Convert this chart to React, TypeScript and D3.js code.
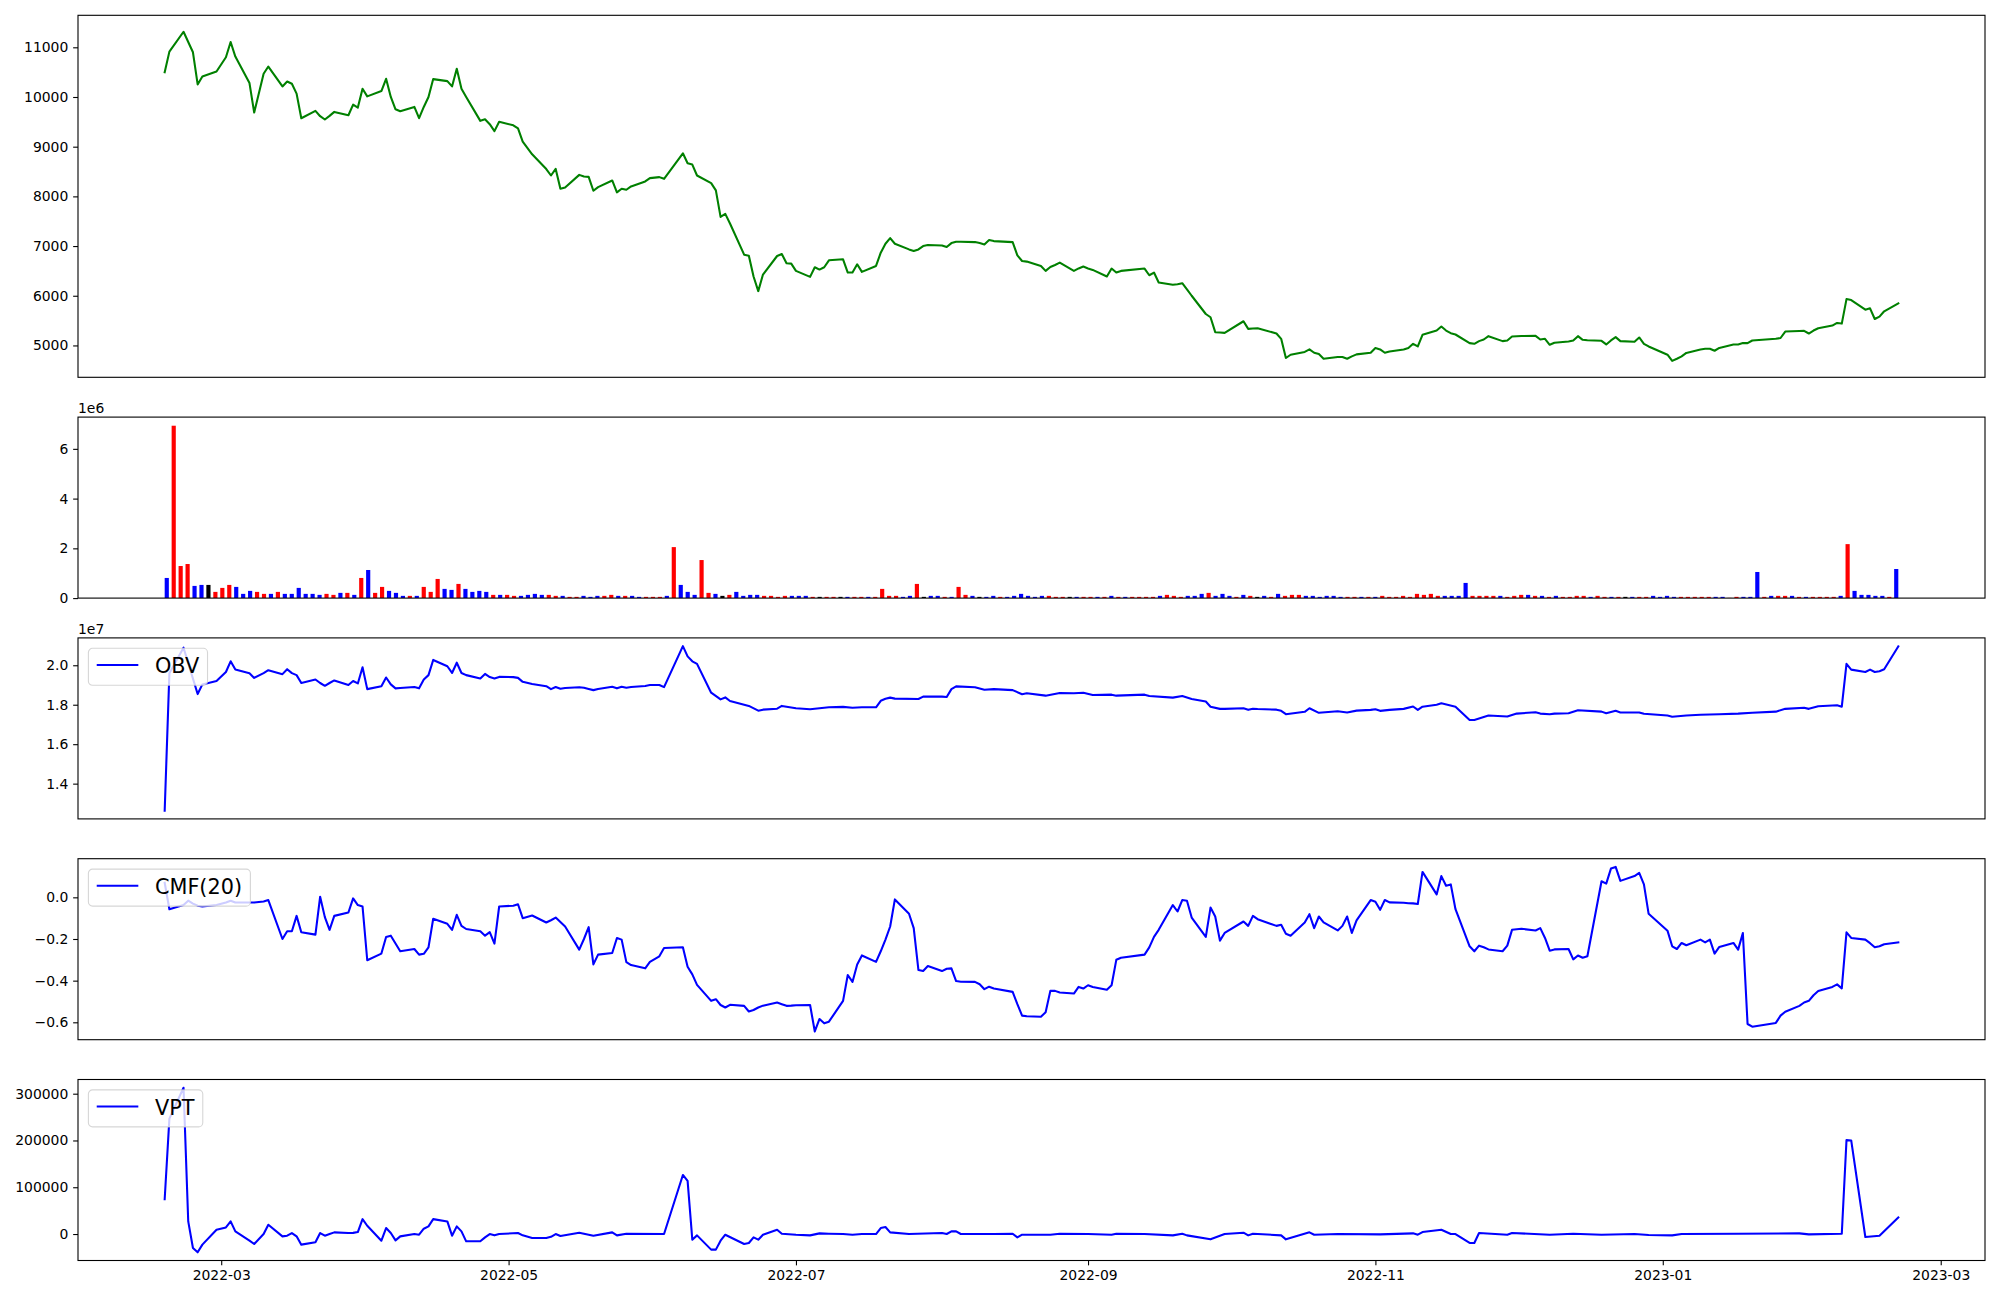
import React, { useEffect, useRef } from "react";
import * as d3 from "d3";

// ---- data ----

// close price
const priceSeries: [string, number][] = [
  ["2022-02-17",10500],["2022-02-18",10913],["2022-02-21",11313],["2022-02-23",10900],["2022-02-24",10253],["2022-02-25",10413],["2022-02-28",10513],
  ["2022-03-02",10800],["2022-03-03",11107],["2022-03-04",10813],["2022-03-07",10280],["2022-03-08",9687],["2022-03-10",10467],["2022-03-11",10613],
  ["2022-03-14",10213],["2022-03-15",10313],["2022-03-16",10267],["2022-03-17",10067],["2022-03-18",9573],["2022-03-21",9720],["2022-03-22",9613],
  ["2022-03-23",9547],["2022-03-24",9620],["2022-03-25",9700],["2022-03-28",9633],["2022-03-29",9847],["2022-03-30",9787],["2022-03-31",10167],
  ["2022-04-01",10013],["2022-04-04",10120],["2022-04-05",10367],["2022-04-06",10000],["2022-04-07",9753],["2022-04-08",9713],["2022-04-11",9800],
  ["2022-04-12",9573],["2022-04-13",9800],["2022-04-14",10000],["2022-04-15",10360],["2022-04-18",10320],["2022-04-19",10213],["2022-04-20",10567],
  ["2022-04-21",10167],["2022-04-22",10000],["2022-04-25",9520],["2022-04-26",9553],["2022-04-27",9453],["2022-04-28",9313],["2022-04-29",9500],
  ["2022-05-02",9430],["2022-05-03",9367],["2022-05-04",9100],["2022-05-06",8847],["2022-05-09",8550],["2022-05-10",8420],["2022-05-11",8553],
  ["2022-05-12",8153],["2022-05-13",8180],["2022-05-16",8433],["2022-05-17",8400],["2022-05-18",8393],["2022-05-19",8113],["2022-05-20",8187],
  ["2022-05-23",8320],["2022-05-24",8080],["2022-05-25",8153],["2022-05-26",8133],["2022-05-27",8200],["2022-05-30",8300],["2022-05-31",8367],
  ["2022-06-02",8387],["2022-06-03",8353],["2022-06-07",8867],["2022-06-08",8667],["2022-06-09",8640],["2022-06-10",8420],["2022-06-13",8267],
  ["2022-06-14",8120],["2022-06-15",7587],["2022-06-16",7647],["2022-06-17",7453],["2022-06-20",6827],["2022-06-21",6807],["2022-06-22",6387],
  ["2022-06-23",6093],["2022-06-24",6427],["2022-06-27",6800],["2022-06-28",6840],["2022-06-29",6653],["2022-06-30",6647],["2022-07-01",6500],
  ["2022-07-04",6380],["2022-07-05",6573],["2022-07-06",6527],["2022-07-07",6573],["2022-07-08",6713],["2022-07-11",6733],["2022-07-12",6467],
  ["2022-07-13",6467],["2022-07-14",6633],["2022-07-15",6480],["2022-07-18",6600],["2022-07-19",6867],["2022-07-20",7047],["2022-07-21",7160],
  ["2022-07-22",7047],["2022-07-25",6933],["2022-07-26",6900],["2022-07-27",6933],["2022-07-28",7000],["2022-07-29",7020],["2022-08-01",7013],
  ["2022-08-02",6980],["2022-08-03",7060],["2022-08-04",7087],["2022-08-05",7087],["2022-08-08",7080],["2022-08-09",7060],["2022-08-10",7033],
  ["2022-08-11",7120],["2022-08-12",7100],["2022-08-16",7080],["2022-08-17",6813],["2022-08-18",6700],["2022-08-19",6687],["2022-08-22",6600],
  ["2022-08-23",6500],["2022-08-24",6580],["2022-08-25",6620],["2022-08-26",6667],["2022-08-29",6500],["2022-08-30",6550],["2022-08-31",6587],
  ["2022-09-01",6550],["2022-09-02",6520],["2022-09-05",6387],["2022-09-06",6547],["2022-09-07",6467],["2022-09-08",6500],["2022-09-13",6547],
  ["2022-09-14",6413],["2022-09-15",6467],["2022-09-16",6267],["2022-09-19",6220],["2022-09-20",6230],["2022-09-21",6253],["2022-09-22",6130],
  ["2022-09-23",6000],["2022-09-26",5633],["2022-09-27",5567],["2022-09-28",5267],["2022-09-29",5260],["2022-09-30",5253],["2022-10-04",5487],
  ["2022-10-05",5333],["2022-10-06",5340],["2022-10-07",5347],["2022-10-11",5240],["2022-10-12",5133],["2022-10-13",4747],["2022-10-14",4813],
  ["2022-10-17",4870],["2022-10-18",4920],["2022-10-19",4853],["2022-10-20",4827],["2022-10-21",4733],["2022-10-24",4767],["2022-10-25",4767],
  ["2022-10-26",4733],["2022-10-27",4780],["2022-10-28",4820],["2022-10-31",4853],["2022-11-01",4947],["2022-11-02",4920],["2022-11-03",4853],
  ["2022-11-04",4880],["2022-11-07",4920],["2022-11-08",4950],["2022-11-09",5033],["2022-11-10",4980],["2022-11-11",5213],["2022-11-14",5300],
  ["2022-11-15",5380],["2022-11-16",5300],["2022-11-17",5247],["2022-11-18",5220],["2022-11-21",5047],["2022-11-22",5033],["2022-11-23",5087],
  ["2022-11-24",5120],["2022-11-25",5187],["2022-11-28",5087],["2022-11-29",5100],["2022-11-30",5180],["2022-12-01",5185],["2022-12-02",5190],
  ["2022-12-05",5193],["2022-12-06",5120],["2022-12-07",5133],["2022-12-08",5013],["2022-12-09",5053],["2022-12-12",5080],["2022-12-13",5100],
  ["2022-12-14",5187],["2022-12-15",5113],["2022-12-16",5105],["2022-12-19",5093],["2022-12-20",5020],["2022-12-21",5100],["2022-12-22",5167],
  ["2022-12-23",5087],["2022-12-26",5073],["2022-12-27",5160],["2022-12-28",5033],["2022-12-29",4980],["2023-01-02",4813],["2023-01-03",4690],
  ["2023-01-04",4733],["2023-01-05",4780],["2023-01-06",4850],["2023-01-09",4920],["2023-01-10",4933],["2023-01-11",4933],["2023-01-12",4893],
  ["2023-01-13",4950],["2023-01-16",5020],["2023-01-17",5020],["2023-01-18",5047],["2023-01-19",5047],["2023-01-20",5100],["2023-01-25",5133],
  ["2023-01-26",5150],["2023-01-27",5280],["2023-01-30",5290],["2023-01-31",5293],["2023-02-01",5240],["2023-02-02",5300],["2023-02-03",5347],
  ["2023-02-06",5400],["2023-02-07",5453],["2023-02-08",5440],["2023-02-09",5933],["2023-02-10",5913],["2023-02-13",5720],["2023-02-14",5747],
  ["2023-02-15",5533],["2023-02-16",5580],["2023-02-17",5687],["2023-02-20",5847],
];

// daily volume (x 1e6), one bar per trading session
const volumeValues: number[] = [
  0.81,6.93,1.29,1.37,0.49,0.53,0.53,0.25,0.41,0.53,
  0.45,0.17,0.29,0.25,0.17,0.17,0.25,0.17,0.17,0.41,
  0.17,0.17,0.13,0.17,0.13,0.21,0.21,0.13,0.81,1.13,
  0.21,0.45,0.29,0.21,0.09,0.09,0.09,0.45,0.25,0.77,
  0.37,0.33,0.57,0.37,0.25,0.29,0.25,0.13,0.13,0.13,
  0.09,0.09,0.13,0.17,0.13,0.13,0.09,0.09,0.05,0.05,
  0.09,0.05,0.09,0.09,0.13,0.09,0.09,0.09,0.05,0.05,
  0.05,0.05,0.09,2.05,0.53,0.25,0.13,1.53,0.21,0.17,
  0.09,0.13,0.25,0.09,0.13,0.13,0.09,0.09,0.05,0.09,
  0.09,0.09,0.09,0.05,0.05,0.05,0.05,0.05,0.05,0.05,
  0.05,0.05,0.05,0.37,0.09,0.09,0.05,0.09,0.57,0.05,
  0.09,0.09,0.05,0.05,0.45,0.13,0.09,0.05,0.05,0.09,
  0.05,0.05,0.09,0.17,0.09,0.05,0.09,0.09,0.05,0.05,
  0.05,0.05,0.05,0.05,0.05,0.05,0.09,0.05,0.05,0.05,
  0.05,0.05,0.05,0.09,0.13,0.09,0.05,0.09,0.09,0.17,
  0.21,0.09,0.17,0.09,0.05,0.13,0.09,0.05,0.09,0.05,
  0.17,0.09,0.13,0.13,0.09,0.09,0.05,0.09,0.09,0.05,
  0.05,0.05,0.05,0.05,0.05,0.09,0.05,0.05,0.09,0.05,
  0.17,0.13,0.17,0.09,0.09,0.09,0.09,0.61,0.09,0.09,
  0.09,0.09,0.09,0.05,0.09,0.13,0.13,0.09,0.09,0.05,
  0.09,0.05,0.05,0.09,0.09,0.05,0.09,0.05,0.05,0.05,
  0.05,0.05,0.05,0.05,0.09,0.05,0.09,0.05,0.05,0.05,
  0.05,0.05,0.05,0.05,0.05,0.01,0.05,0.05,0.05,1.05,
  0.05,0.09,0.09,0.09,0.09,0.05,0.05,0.05,0.05,0.05,
  0.05,0.09,2.17,0.29,0.13,0.13,0.09,0.09,0.05,1.17,
];
// bar colour per session: r = red, b = blue, k = black
const volumeColorCodes = (
  "brrrbbkrrr" + "bbbrrbrbbb" + "bbbrrbrbrb" + "rrbbbrbrrr" + "bbrbbbbrbr" +
  "rbbbbrrbrr" + "bbbrrbrbbr" + "rrbrbbbrrb" + "krbbbbrrrr" + "bbbrkrrkbr" +
  "rbrrrrbbrk" + "bbrbrrbkbb" + "rbbbbbbrrr" + "kbrrbrbrbr" + "rrrbrrrbbb" +
  "rbbbrbrkbr" + "brrrbbbbbb" + "rrbrbrrrrr" + "rrrrbbbbrr" + "rrbrrrbrbr" +
  "brrrrbrrbr" + "kbrrbbbbrr" + "rrrbbrrbbb" + "rbrrbrbrrr" + "rbrbbbbbrb"
).split("");

// on-balance volume (x 1e7)
const obvSeries: [string, number][] = [
  ["2022-02-17",1.263],["2022-02-18",1.96],["2022-02-21",2.089],["2022-02-24",1.854],["2022-02-25",1.903],["2022-02-28",1.92],["2022-03-02",1.966],
  ["2022-03-03",2.02],["2022-03-04",1.978],["2022-03-07",1.96],["2022-03-08",1.936],["2022-03-10",1.96],["2022-03-11",1.975],["2022-03-14",1.955],
  ["2022-03-15",1.98],["2022-03-16",1.96],["2022-03-17",1.95],["2022-03-18",1.91],["2022-03-21",1.928],["2022-03-22",1.91],["2022-03-23",1.896],
  ["2022-03-24",1.91],["2022-03-25",1.923],["2022-03-28",1.9],["2022-03-29",1.92],["2022-03-30",1.908],["2022-03-31",1.99],["2022-04-01",1.879],
  ["2022-04-04",1.894],["2022-04-05",1.938],["2022-04-06",1.903],["2022-04-07",1.883],["2022-04-08",1.885],["2022-04-11",1.89],["2022-04-12",1.883],
  ["2022-04-13",1.928],["2022-04-14",1.95],["2022-04-15",2.027],["2022-04-18",1.995],["2022-04-19",1.961],["2022-04-20",2.013],["2022-04-21",1.961],
  ["2022-04-22",1.95],["2022-04-25",1.933],["2022-04-26",1.956],["2022-04-27",1.94],["2022-04-28",1.933],["2022-04-29",1.941],["2022-05-02",1.94],
  ["2022-05-03",1.936],["2022-05-04",1.916],["2022-05-06",1.905],["2022-05-09",1.894],["2022-05-10",1.879],["2022-05-11",1.89],["2022-05-12",1.881],
  ["2022-05-13",1.885],["2022-05-16",1.889],["2022-05-17",1.886],["2022-05-18",1.88],["2022-05-19",1.874],["2022-05-20",1.88],["2022-05-23",1.891],
  ["2022-05-24",1.883],["2022-05-25",1.891],["2022-05-26",1.886],["2022-05-27",1.89],["2022-05-30",1.895],["2022-05-31",1.9],["2022-06-02",1.9],
  ["2022-06-03",1.889],["2022-06-07",2.097],["2022-06-08",2.045],["2022-06-09",2.02],["2022-06-10",2.007],["2022-06-13",1.861],["2022-06-15",1.827],
  ["2022-06-16",1.837],["2022-06-17",1.819],["2022-06-21",1.794],["2022-06-23",1.77],["2022-06-24",1.775],["2022-06-27",1.78],["2022-06-28",1.794],
  ["2022-07-01",1.782],["2022-07-04",1.777],["2022-07-06",1.782],["2022-07-08",1.787],["2022-07-11",1.789],["2022-07-13",1.785],["2022-07-15",1.787],
  ["2022-07-18",1.787],["2022-07-19",1.82],["2022-07-20",1.83],["2022-07-21",1.836],["2022-07-22",1.831],["2022-07-27",1.829],["2022-07-28",1.841],
  ["2022-08-01",1.841],["2022-08-02",1.839],["2022-08-03",1.879],["2022-08-04",1.893],["2022-08-08",1.889],["2022-08-10",1.876],["2022-08-12",1.879],
  ["2022-08-16",1.874],["2022-08-18",1.853],["2022-08-19",1.858],["2022-08-23",1.846],["2022-08-26",1.859],["2022-08-29",1.858],["2022-08-31",1.861],
  ["2022-09-02",1.849],["2022-09-06",1.851],["2022-09-07",1.846],["2022-09-13",1.851],["2022-09-14",1.844],["2022-09-19",1.836],["2022-09-21",1.844],
  ["2022-09-23",1.829],["2022-09-26",1.816],["2022-09-27",1.79],["2022-09-29",1.779],["2022-09-30",1.779],["2022-10-04",1.782],["2022-10-05",1.774],
  ["2022-10-06",1.78],["2022-10-07",1.778],["2022-10-11",1.775],["2022-10-12",1.769],["2022-10-13",1.752],["2022-10-17",1.764],["2022-10-18",1.782],
  ["2022-10-20",1.759],["2022-10-24",1.767],["2022-10-26",1.761],["2022-10-28",1.77],["2022-10-31",1.774],["2022-11-01",1.777],["2022-11-02",1.769],
  ["2022-11-04",1.774],["2022-11-07",1.779],["2022-11-09",1.791],["2022-11-10",1.774],["2022-11-11",1.79],["2022-11-14",1.8],["2022-11-15",1.807],
  ["2022-11-18",1.79],["2022-11-21",1.723],["2022-11-22",1.723],["2022-11-25",1.745],["2022-11-29",1.74],["2022-12-01",1.755],["2022-12-05",1.762],
  ["2022-12-06",1.755],["2022-12-08",1.752],["2022-12-09",1.755],["2022-12-12",1.757],["2022-12-14",1.772],["2022-12-19",1.765],["2022-12-20",1.757],
  ["2022-12-22",1.769],["2022-12-23",1.761],["2022-12-27",1.761],["2022-12-28",1.754],["2023-01-02",1.745],["2023-01-03",1.739],["2023-01-06",1.745],
  ["2023-01-09",1.749],["2023-01-13",1.752],["2023-01-17",1.755],["2023-01-20",1.759],["2023-01-25",1.765],["2023-01-27",1.779],["2023-01-31",1.785],
  ["2023-02-01",1.779],["2023-02-03",1.792],["2023-02-07",1.797],["2023-02-08",1.79],["2023-02-09",2.007],["2023-02-10",1.978],["2023-02-13",1.966],
  ["2023-02-14",1.978],["2023-02-15",1.966],["2023-02-16",1.97],["2023-02-17",1.98],["2023-02-20",2.096],
];

// Chaikin money flow, 20 sessions
const cmfSeries: [string, number][] = [
  ["2022-02-17",0.07],["2022-02-18",-0.057],["2022-02-21",-0.037],["2022-02-22",-0.016],["2022-02-23",-0.03],["2022-02-24",-0.04],["2022-02-25",-0.044],
  ["2022-02-28",-0.037],["2022-03-02",-0.025],["2022-03-03",-0.016],["2022-03-04",-0.025],["2022-03-07",-0.025],["2022-03-08",-0.025],["2022-03-10",-0.02],
  ["2022-03-11",-0.013],["2022-03-14",-0.2],["2022-03-15",-0.163],["2022-03-16",-0.163],["2022-03-17",-0.089],["2022-03-18",-0.168],["2022-03-21",-0.179],
  ["2022-03-22",0.003],["2022-03-23",-0.095],["2022-03-24",-0.156],["2022-03-25",-0.089],["2022-03-28",-0.073],["2022-03-29",-0.005],["2022-03-30",-0.037],
  ["2022-03-31",-0.044],["2022-04-01",-0.302],["2022-04-04",-0.27],["2022-04-05",-0.19],["2022-04-06",-0.184],["2022-04-07",-0.222],["2022-04-08",-0.259],
  ["2022-04-11",-0.248],["2022-04-12",-0.275],["2022-04-13",-0.271],["2022-04-14",-0.24],["2022-04-15",-0.103],["2022-04-18",-0.127],["2022-04-19",-0.156],
  ["2022-04-20",-0.084],["2022-04-21",-0.137],["2022-04-22",-0.152],["2022-04-25",-0.163],["2022-04-26",-0.184],["2022-04-27",-0.167],["2022-04-28",-0.222],
  ["2022-04-29",-0.044],["2022-05-02",-0.04],["2022-05-03",-0.033],["2022-05-04",-0.1],["2022-05-06",-0.087],["2022-05-09",-0.121],["2022-05-10",-0.11],
  ["2022-05-11",-0.097],["2022-05-13",-0.14],["2022-05-16",-0.251],["2022-05-17",-0.2],["2022-05-18",-0.143],["2022-05-19",-0.322],["2022-05-20",-0.275],
  ["2022-05-23",-0.267],["2022-05-24",-0.195],["2022-05-25",-0.203],["2022-05-26",-0.311],["2022-05-27",-0.325],["2022-05-30",-0.341],["2022-05-31",-0.31],
  ["2022-06-02",-0.283],["2022-06-03",-0.243],["2022-06-07",-0.24],["2022-06-08",-0.333],["2022-06-09",-0.37],["2022-06-10",-0.42],["2022-06-13",-0.497],
  ["2022-06-14",-0.489],["2022-06-15",-0.517],["2022-06-16",-0.529],["2022-06-17",-0.516],["2022-06-20",-0.521],["2022-06-21",-0.548],["2022-06-22",-0.541],
  ["2022-06-23",-0.529],["2022-06-24",-0.52],["2022-06-27",-0.505],["2022-06-28",-0.513],["2022-06-29",-0.521],["2022-06-30",-0.52],["2022-07-01",-0.518],
  ["2022-07-04",-0.517],["2022-07-05",-0.644],["2022-07-06",-0.584],["2022-07-07",-0.605],["2022-07-08",-0.597],["2022-07-11",-0.497],["2022-07-12",-0.373],
  ["2022-07-13",-0.406],["2022-07-14",-0.322],["2022-07-15",-0.279],["2022-07-18",-0.31],["2022-07-19",-0.259],["2022-07-20",-0.203],["2022-07-21",-0.14],
  ["2022-07-22",-0.01],["2022-07-25",-0.079],["2022-07-26",-0.148],["2022-07-27",-0.349],["2022-07-28",-0.354],["2022-07-29",-0.33],["2022-08-01",-0.354],
  ["2022-08-02",-0.343],["2022-08-03",-0.341],["2022-08-04",-0.402],["2022-08-05",-0.405],["2022-08-08",-0.406],["2022-08-09",-0.417],["2022-08-10",-0.441],
  ["2022-08-11",-0.429],["2022-08-12",-0.438],["2022-08-16",-0.454],["2022-08-17",-0.513],["2022-08-18",-0.568],["2022-08-19",-0.571],["2022-08-22",-0.573],
  ["2022-08-23",-0.552],["2022-08-24",-0.449],["2022-08-25",-0.449],["2022-08-26",-0.457],["2022-08-29",-0.462],["2022-08-30",-0.43],["2022-08-31",-0.438],
  ["2022-09-01",-0.422],["2022-09-02",-0.43],["2022-09-05",-0.444],["2022-09-06",-0.422],["2022-09-07",-0.3],["2022-09-08",-0.29],["2022-09-13",-0.275],
  ["2022-09-14",-0.24],["2022-09-15",-0.19],["2022-09-16",-0.156],["2022-09-19",-0.037],["2022-09-20",-0.068],["2022-09-21",-0.013],["2022-09-22",-0.016],
  ["2022-09-23",-0.097],["2022-09-26",-0.19],["2022-09-27",-0.049],["2022-09-28",-0.092],["2022-09-29",-0.208],["2022-09-30",-0.171],["2022-10-04",-0.116],
  ["2022-10-05",-0.137],["2022-10-06",-0.089],["2022-10-07",-0.105],["2022-10-11",-0.137],["2022-10-12",-0.132],["2022-10-13",-0.175],["2022-10-14",-0.184],
  ["2022-10-17",-0.121],["2022-10-18",-0.081],["2022-10-19",-0.148],["2022-10-20",-0.092],["2022-10-21",-0.12],["2022-10-24",-0.159],["2022-10-25",-0.137],
  ["2022-10-26",-0.092],["2022-10-27",-0.171],["2022-10-28",-0.111],["2022-10-31",-0.013],["2022-11-01",-0.021],["2022-11-02",-0.06],["2022-11-03",-0.013],
  ["2022-11-04",-0.024],["2022-11-07",-0.026],["2022-11-08",-0.028],["2022-11-09",-0.029],["2022-11-10",-0.032],["2022-11-11",0.122],["2022-11-14",0.014],
  ["2022-11-15",0.102],["2022-11-16",0.056],["2022-11-17",0.062],["2022-11-18",-0.057],["2022-11-21",-0.235],["2022-11-22",-0.259],["2022-11-23",-0.232],
  ["2022-11-24",-0.24],["2022-11-25",-0.25],["2022-11-28",-0.259],["2022-11-29",-0.232],["2022-11-30",-0.156],["2022-12-01",-0.153],["2022-12-02",-0.151],
  ["2022-12-05",-0.159],["2022-12-06",-0.148],["2022-12-07",-0.195],["2022-12-08",-0.256],["2022-12-09",-0.25],["2022-12-12",-0.248],["2022-12-13",-0.298],
  ["2022-12-14",-0.279],["2022-12-15",-0.29],["2022-12-16",-0.283],["2022-12-19",0.077],["2022-12-20",0.066],["2022-12-21",0.138],["2022-12-22",0.146],
  ["2022-12-23",0.079],["2022-12-26",0.102],["2022-12-27",0.117],["2022-12-28",0.062],["2022-12-29",-0.079],["2023-01-02",-0.16],["2023-01-03",-0.235],
  ["2023-01-04",-0.248],["2023-01-05",-0.219],["2023-01-06",-0.23],["2023-01-09",-0.203],["2023-01-10",-0.216],["2023-01-11",-0.203],["2023-01-12",-0.27],
  ["2023-01-13",-0.238],["2023-01-16",-0.219],["2023-01-17",-0.251],["2023-01-18",-0.171],["2023-01-19",-0.608],["2023-01-20",-0.621],["2023-01-25",-0.603],
  ["2023-01-26",-0.568],["2023-01-27",-0.549],["2023-01-30",-0.521],["2023-01-31",-0.505],["2023-02-01",-0.497],["2023-02-02",-0.47],["2023-02-03",-0.45],
  ["2023-02-06",-0.43],["2023-02-07",-0.418],["2023-02-08",-0.437],["2023-02-09",-0.168],["2023-02-10",-0.195],["2023-02-13",-0.203],["2023-02-14",-0.22],
  ["2023-02-15",-0.24],["2023-02-16",-0.235],["2023-02-17",-0.225],["2023-02-20",-0.216],
];

// volume price trend
const vptSeries: [string, number][] = [
  ["2022-02-17",74470],["2022-02-18",246800],["2022-02-21",312760],["2022-02-22",26950],["2022-02-23",-29790],["2022-02-24",-39000],["2022-02-25",-22700],
  ["2022-02-28",9220],["2022-03-02",14180],["2022-03-03",26950],["2022-03-04",5670],["2022-03-07",-14000],["2022-03-08",-21280],["2022-03-10",0],
  ["2022-03-11",19860],["2022-03-14",-4960],["2022-03-15",-3550],["2022-03-16",2130],["2022-03-17",-4960],["2022-03-18",-22700],["2022-03-21",-17730],
  ["2022-03-22",2130],["2022-03-23",-3550],["2022-03-24",0],["2022-03-25",3550],["2022-03-28",2130],["2022-03-29",2500],["2022-03-30",4260],
  ["2022-03-31",31900],["2022-04-01",17730],["2022-04-04",-14180],["2022-04-05",12770],["2022-04-06",2130],["2022-04-07",-13480],["2022-04-08",-4960],
  ["2022-04-11",0],["2022-04-12",-1420],["2022-04-13",11350],["2022-04-14",16310],["2022-04-15",31900],["2022-04-18",26950],["2022-04-19",-3550],
  ["2022-04-20",16310],["2022-04-21",5670],["2022-04-22",-15600],["2022-04-25",-15600],["2022-04-26",-7090],["2022-04-27",0],["2022-04-28",-2840],
  ["2022-04-29",0],["2022-05-03",2130],["2022-05-04",-2840],["2022-05-06",-8510],["2022-05-09",-8510],["2022-05-10",-6000],["2022-05-11",0],
  ["2022-05-12",-4260],["2022-05-16",2840],["2022-05-19",-3550],["2022-05-23",3550],["2022-05-24",-2840],["2022-05-26",700],["2022-06-03",0],
  ["2022-06-07",126240],["2022-06-08",113470],["2022-06-09",-12060],["2022-06-10",-2840],["2022-06-13",-33330],["2022-06-14",-33330],["2022-06-15",-14180],
  ["2022-06-16",-1420],["2022-06-20",-21280],["2022-06-21",-19150],["2022-06-22",-7090],["2022-06-23",-12060],["2022-06-24",-1420],["2022-06-27",9220],
  ["2022-06-28",700],["2022-07-01",-1420],["2022-07-04",-2840],["2022-07-06",1420],["2022-07-08",700],["2022-07-11",0],["2022-07-13",-1420],
  ["2022-07-15",0],["2022-07-18",0],["2022-07-19",12770],["2022-07-20",14890],["2022-07-21",3550],["2022-07-25",0],["2022-08-01",2130],
  ["2022-08-02",0],["2022-08-03",5670],["2022-08-04",5670],["2022-08-05",0],["2022-08-12",0],["2022-08-16",700],["2022-08-17",-7090],
  ["2022-08-18",-1420],["2022-08-24",-1420],["2022-08-26",700],["2022-09-01",0],["2022-09-06",-1420],["2022-09-07",700],["2022-09-13",0],
  ["2022-09-19",-2840],["2022-09-21",700],["2022-09-22",-2840],["2022-09-27",-11350],["2022-09-30",0],["2022-10-04",2840],["2022-10-05",-2840],
  ["2022-10-06",700],["2022-10-12",-2840],["2022-10-13",-11350],["2022-10-18",3550],["2022-10-19",-1420],["2022-10-24",0],["2022-11-02",-700],
  ["2022-11-09",1420],["2022-11-10",-1420],["2022-11-11",4260],["2022-11-15",9220],["2022-11-17",0],["2022-11-18",0],["2022-11-21",-19150],
  ["2022-11-22",-19150],["2022-11-23",2130],["2022-11-29",-1420],["2022-11-30",2130],["2022-12-08",-1420],["2022-12-13",700],["2022-12-19",-1420],
  ["2022-12-26",0],["2022-12-29",-2130],["2023-01-03",-2840],["2023-01-05",0],["2023-01-17",700],["2023-01-30",1420],["2023-02-01",-700],
  ["2023-02-08",700],["2023-02-09",200700],["2023-02-10",200000],["2023-02-13",-6380],["2023-02-16",-3550],["2023-02-20",35460],
];

const priceTicks = [5000, 6000, 7000, 8000, 9000, 10000, 11000];
const volumeTicks = [0, 2, 4, 6];
const obvTicks = [1.4, 1.6, 1.8, 2.0];
const cmfTicks = [-0.6, -0.4, -0.2, 0.0];
const vptTicks = [0, 100000, 200000, 300000];

// ---- layout ----
const FONT = "'DejaVu Sans', sans-serif";
const TICK_FONT = 13.9;
const LEGEND_FONT = 20.8;
const TICK_LEN = 4.86;
const BAR_WIDTH = 0.6; // in session slots
const plotLeft = 78;
const plotRight = 1985;
const boxes = [
  { top: 15.3, bottom: 377.3 },
  { top: 417.1, bottom: 598.1 },
  { top: 637.9, bottom: 818.9 },
  { top: 858.7, bottom: 1039.7 },
  { top: 1079.5, bottom: 1260.5 },
];
const colorOf: Record<string, string> = { r: "#ff0000", b: "#0000ff", k: "#000000" };

const parseDate = d3.timeParse("%Y-%m-%d");

function paddedExtent(values: number[]) {
  const [lo, hi] = d3.extent(values) as [number, number];
  const m = (hi - lo) * 0.05;
  return [lo - m, hi + m];
}

export default function App() {
  const svgRef = useRef<SVGSVGElement>(null);

  useEffect(() => {
    const svg = d3.select(svgRef.current);
    svg.selectAll("*").remove();

    const toPoints = (s: [string, number][]) =>
      s.map(([d, v]) => ({ date: parseDate(d) as Date, value: v }));

    const price = toPoints(priceSeries);
    const obv = toPoints(obvSeries);
    const cmf = toPoints(cmfSeries);
    const vpt = toPoints(vptSeries);

    // shared date axis, 5% margin on each side
    const t0 = price[0].date.getTime();
    const t1 = price[price.length - 1].date.getTime();
    const pad = (t1 - t0) * 0.05;
    const x = d3
      .scaleTime()
      .domain([new Date(t0 - pad), new Date(t1 + pad)])
      .range([plotLeft, plotRight]);

    const defs = svg.append("defs");
    boxes.forEach((b, i) => {
      defs
        .append("clipPath")
        .attr("id", `clip-${i}`)
        .append("rect")
        .attr("x", plotLeft)
        .attr("y", b.top)
        .attr("width", plotRight - plotLeft)
        .attr("height", b.bottom - b.top);
    });

    const yAxis = (
      y: d3.ScaleLinear<number, number>,
      ticks: number[],
      fmt: (d: number) => string
    ) => {
      svg
        .append("g")
        .attr("transform", `translate(${plotLeft},0)`)
        .call(
          d3
            .axisLeft(y)
            .tickValues(ticks)
            .tickFormat(fmt as any)
            .tickSize(TICK_LEN)
            .tickPadding(TICK_LEN)
        )
        .call((g) => g.select(".domain").remove())
        .call((g) =>
          g
            .selectAll("text")
            .attr("font-family", FONT)
            .attr("font-size", TICK_FONT)
            .attr("fill", "#000")
        )
        .call((g) => g.selectAll("line").attr("stroke", "#000").attr("stroke-width", 1.1));
    };

    const frame = (i: number) => {
      const b = boxes[i];
      svg
        .append("rect")
        .attr("x", plotLeft)
        .attr("y", b.top)
        .attr("width", plotRight - plotLeft)
        .attr("height", b.bottom - b.top)
        .attr("fill", "none")
        .attr("stroke", "#000")
        .attr("stroke-width", 1.1);
    };

    const drawLine = (
      i: number,
      pts: { date: Date; value: number }[],
      y: d3.ScaleLinear<number, number>,
      color: string
    ) => {
      const line = d3
        .line<{ date: Date; value: number }>()
        .x((d) => x(d.date))
        .y((d) => y(d.value));
      svg
        .append("path")
        .datum(pts)
        .attr("clip-path", `url(#clip-${i})`)
        .attr("d", line)
        .attr("fill", "none")
        .attr("stroke", color)
        .attr("stroke-width", 2.08)
        .attr("stroke-linejoin", "round")
        .attr("stroke-linecap", "square");
    };

    const offsetLabel = (i: number, text: string) => {
      svg
        .append("text")
        .attr("x", plotLeft)
        .attr("y", boxes[i].top - 4)
        .attr("font-family", FONT)
        .attr("font-size", TICK_FONT)
        .attr("fill", "#000")
        .text(text);
    };

    const legend = (i: number, label: string, color: string) => {
      const fs = LEGEND_FONT;
      const g = svg
        .append("g")
        .attr("transform", `translate(${plotLeft + 0.5 * fs},${boxes[i].top + 0.5 * fs})`);
      const rect = g.append("rect");
      g.append("line")
        .attr("x1", 0.4 * fs)
        .attr("x2", 2.4 * fs)
        .attr("y1", 0.8 * fs)
        .attr("y2", 0.8 * fs)
        .attr("stroke", color)
        .attr("stroke-width", 2.08);
      const txt = g
        .append("text")
        .attr("x", 3.2 * fs)
        .attr("y", 1.2 * fs)
        .attr("font-family", FONT)
        .attr("font-size", fs)
        .attr("fill", "#000")
        .text(label);
      const tw = (txt.node() as SVGTextElement).getComputedTextLength();
      rect
        .attr("x", 0)
        .attr("y", 0)
        .attr("width", 3.2 * fs + tw + 0.4 * fs)
        .attr("height", 1.78 * fs)
        .attr("rx", 0.2 * fs)
        .attr("fill", "#ffffff")
        .attr("fill-opacity", 0.8)
        .attr("stroke", "#cccccc")
        .attr("stroke-opacity", 0.8)
        .attr("stroke-width", 1.1);
    };

    // panel 1: price
    const yPrice = d3
      .scaleLinear()
      .domain(paddedExtent(price.map((d) => d.value)))
      .range([boxes[0].bottom, boxes[0].top]);
    drawLine(0, price, yPrice, "#008000");
    yAxis(yPrice, priceTicks, d3.format("d"));
    frame(0);

    // panel 2: volume bars, one slot per session
    const n = volumeValues.length;
    const half = BAR_WIDTH / 2;
    const xPad = (n - 1 + BAR_WIDTH) * 0.05;
    const xi = d3
      .scaleLinear()
      .domain([-half - xPad, n - 1 + half + xPad])
      .range([plotLeft, plotRight]);
    const yVol = d3
      .scaleLinear()
      .domain([0, (d3.max(volumeValues) as number) * 1.05])
      .range([boxes[1].bottom, boxes[1].top]);
    svg
      .append("g")
      .attr("clip-path", "url(#clip-1)")
      .selectAll("rect")
      .data(volumeValues)
      .join("rect")
      .attr("x", (_d, i) => xi(i - half))
      .attr("width", (_d, i) => xi(i + half) - xi(i - half))
      .attr("y", (d) => yVol(d))
      .attr("height", (d) => yVol(0) - yVol(d))
      .attr("fill", (_d, i) => colorOf[volumeColorCodes[i]]);
    yAxis(yVol, volumeTicks, d3.format("d"));
    frame(1);
    offsetLabel(1, "1e6");

    // panel 3: OBV
    const yObv = d3
      .scaleLinear()
      .domain(paddedExtent(obv.map((d) => d.value)))
      .range([boxes[2].bottom, boxes[2].top]);
    drawLine(2, obv, yObv, "#0000ff");
    yAxis(yObv, obvTicks, d3.format(".1f"));
    frame(2);
    offsetLabel(2, "1e7");
    legend(2, "OBV", "#0000ff");

    // panel 4: CMF
    const yCmf = d3
      .scaleLinear()
      .domain(paddedExtent(cmf.map((d) => d.value)))
      .range([boxes[3].bottom, boxes[3].top]);
    drawLine(3, cmf, yCmf, "#0000ff");
    yAxis(yCmf, cmfTicks, d3.format(".1f"));
    frame(3);
    legend(3, "CMF(20)", "#0000ff");

    // panel 5: VPT with the date axis
    const yVpt = d3
      .scaleLinear()
      .domain(paddedExtent(vpt.map((d) => d.value)))
      .range([boxes[4].bottom, boxes[4].top]);
    drawLine(4, vpt, yVpt, "#0000ff");
    yAxis(yVpt, vptTicks, d3.format("d"));
    svg
      .append("g")
      .attr("transform", `translate(0,${boxes[4].bottom})`)
      .call(
        d3
          .axisBottom(x)
          .ticks(d3.timeMonth.every(2))
          .tickFormat(d3.timeFormat("%Y-%m") as any)
          .tickSize(TICK_LEN)
          .tickPadding(TICK_LEN)
      )
      .call((g) => g.select(".domain").remove())
      .call((g) =>
        g
          .selectAll("text")
          .attr("font-family", FONT)
          .attr("font-size", TICK_FONT)
          .attr("fill", "#000")
      )
      .call((g) => g.selectAll("line").attr("stroke", "#000").attr("stroke-width", 1.1));
    frame(4);
    legend(4, "VPT", "#0000ff");
  }, []);

  return (
    <svg
      ref={svgRef}
      width={2000}
      height={1300}
      style={{ position: "absolute", left: 0, top: 0, background: "#ffffff" }}
    />
  );
}
